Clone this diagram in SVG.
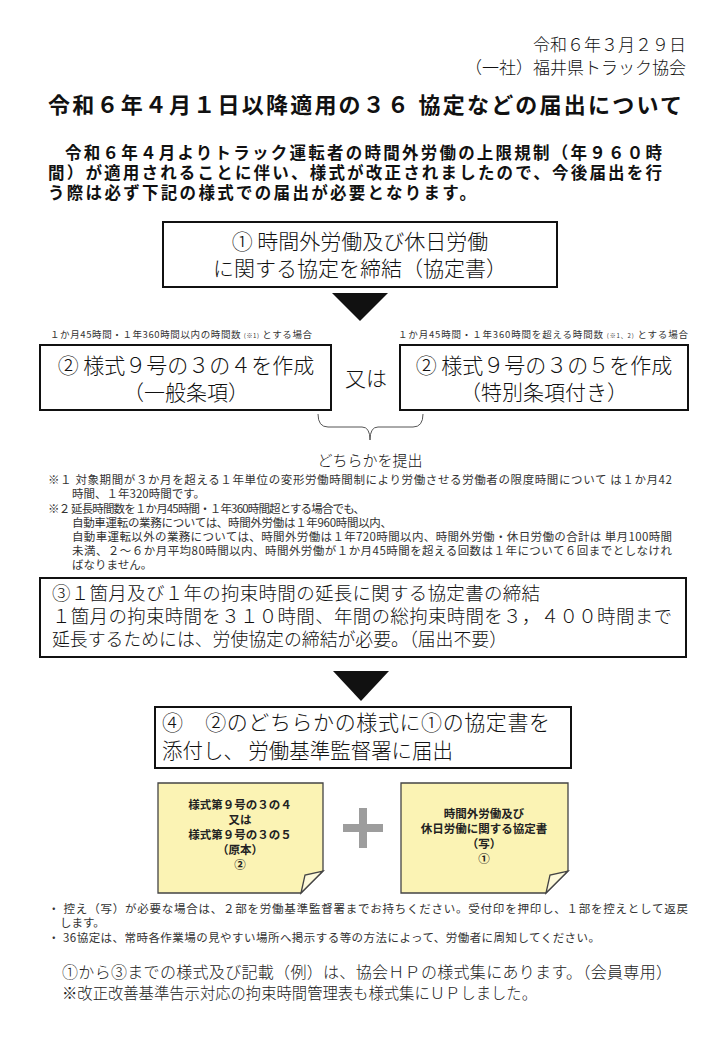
<svg xmlns="http://www.w3.org/2000/svg" width="720" height="1040" viewBox="0 0 720 1040">
<style>
text{font-family:"Noto Sans CJK JP","Noto Sans CJK SC",sans-serif;fill:#111}
.hdr{font-size:17px;font-weight:300}
.ttl{font-size:22px;font-weight:bold}
.par{font-size:16.5px;font-weight:bold}
.box{fill:#fff;stroke:#111;stroke-width:2}
.bt{font-size:21px;font-weight:300}
.lbl{font-size:9.5px;fill:#333}
.note{font-size:11.5px;fill:#333}
.sub{font-size:6px;fill:#333}
.yel{fill:#FBF3B4;stroke:#444;stroke-width:1.3}
.fold{fill:#FDF9DA;stroke:#444;stroke-width:1.3}
.yt{font-size:11.5px;font-weight:bold;fill:#222}
.b3{font-size:18.5px;font-weight:300}
.ft{font-size:16px;fill:#222;font-weight:300}
</style>
<rect width="720" height="1040" fill="#fff"/>

<g id="header">
<text class="hdr" x="686" y="51" text-anchor="end">令和６年３月２９日</text>
<text class="hdr" x="686" y="74" text-anchor="end">（一社）福井県トラック協会</text>
</g>

<g id="title">
<text class="ttl" x="48" y="113" textLength="634" lengthAdjust="spacing">令和６年４月１日以降適用の３６ 協定などの届出について</text>
</g>

<g id="intro">
<text class="par" x="65" y="159" textLength="597" lengthAdjust="spacing">令和６年４月よりトラック運転者の時間外労働の上限規制（年９６０時</text>
<text class="par" x="48" y="179" textLength="614" lengthAdjust="spacing">間）が適用されることに伴い、様式が改正されましたので、今後届出を行</text>
<text class="par" x="48" y="199" textLength="428" lengthAdjust="spacing">う際は必ず下記の様式での届出が必要となります。</text>
</g>

<g id="step1">
<rect class="box" x="163" y="222" width="394" height="65"/>
<text class="bt" x="360" y="249" text-anchor="middle" font-size="22">① 時間外労働及び休日労働</text>
<text class="bt" x="360" y="276" text-anchor="middle">に関する協定を締結（協定書）</text>
</g>

<g id="connectors">
<polygon points="332,293 388,293 360,321" fill="#111"/>
<path d="M318,414 Q318,427 328,427 H362 Q370,427 370,440 Q370,427 378,427 H413 Q423,427 423,414" fill="none" stroke="#555" stroke-width="1"/>
<polygon points="333,671 389,671 361,701" fill="#111"/>
<path d="M363,808 V848 M343,828 H383" stroke="#9d9d9d" stroke-width="8" fill="none"/>
</g>

<g id="labels">
<text class="lbl" x="50" y="338" textLength="262" lengthAdjust="spacing">１か月45時間・１年360時間以内の時間数 <tspan class="sub">(※1)</tspan> とする場合</text>
<text class="lbl" x="398" y="338" textLength="290" lengthAdjust="spacing">１か月45時間・１年360時間を超える時間数 <tspan class="sub">(※1、2)</tspan> とする場合</text>
</g>

<g id="step2a">
<rect class="box" x="40" y="345" width="291" height="65"/>
<text class="bt" x="186" y="373" text-anchor="middle" font-size="22">② 様式９号の３の４を作成</text>
<text class="bt" x="186" y="400" text-anchor="middle" font-size="22">（一般条項）</text>
</g>

<g id="or">
<text class="bt" x="366" y="386" text-anchor="middle" font-size="22">又は</text>
</g>

<g id="step2b">
<rect class="box" x="400" y="345" width="288" height="65"/>
<text class="bt" x="544" y="373" text-anchor="middle" font-size="22">② 様式９号の３の５を作成</text>
<text class="bt" x="544" y="400" text-anchor="middle" font-size="22">（特別条項付き）</text>
</g>

<g id="submit">
<text x="370" y="466" text-anchor="middle" font-size="15" font-weight="300">どちらかを提出</text>
</g>

<g id="footnotes">
<text class="note" x="48" y="484" textLength="624" lengthAdjust="spacing">※１ 対象期間が３か月を超える１年単位の変形労働時間制により労働させる労働者の限度時間について は１か月42</text>
<text class="note" x="72" y="498" textLength="133" lengthAdjust="spacing">時間、１年320時間です。</text>
<text class="note" x="48" y="513" textLength="317" lengthAdjust="spacing">※２ 延長時間数を１か月45時間・１年360時間超とする場合でも、</text>
<text class="note" x="72" y="527" textLength="320" lengthAdjust="spacing">自動車運転の業務については、時間外労働は１年960時間以内、</text>
<text class="note" x="72" y="541" textLength="600" lengthAdjust="spacing">自動車運転以外の業務については、時間外労働は１年720時間以内、時間外労働・休日労働の合計は 単月100時間</text>
<text class="note" x="72" y="555" textLength="600" lengthAdjust="spacing">未満、２～６か月平均80時間以内、時間外労働が１か月45時間を超える回数は１年について６回までとしなけれ</text>
<text class="note" x="72" y="569">ばなりません。</text>
</g>

<g id="step3">
<rect class="box" x="40" y="578" width="646" height="79"/>
<text class="b3" x="52" y="600" textLength="488" lengthAdjust="spacing">③１箇月及び１年の拘束時間の延長に関する協定書の締結</text>
<text class="b3" x="52" y="623" textLength="620" lengthAdjust="spacing">１箇月の拘束時間を３１０時間、年間の総拘束時間を３，４００時間まで</text>
<text class="b3" x="52" y="646" textLength="455" lengthAdjust="spacingAndGlyphs">延長するためには、労使協定の締結が必要。（届出不要）</text>
</g>

<g id="step4">
<rect class="box" x="155" y="707" width="416" height="61"/>
<text class="bt" x="162" y="730" textLength="388" lengthAdjust="spacing">④　②のどちらかの様式に①の協定書を</text>
<text class="bt" x="162" y="758" textLength="291" lengthAdjust="spacingAndGlyphs">添付し、 労働基準監督署に届出</text>
</g>

<g id="doc-form">
<path class="yel" d="M158,783 H323 V871 L301,893 H158 Z"/>
<path class="fold" d="M301,893 L305,875 L323,871 Z"/>
<text class="yt" x="240" y="809" text-anchor="middle">様式第９号の３の４</text>
<text class="yt" x="240" y="824" text-anchor="middle">又は</text>
<text class="yt" x="240" y="839" text-anchor="middle">様式第９号の３の５</text>
<text class="yt" x="240" y="854" text-anchor="middle">（原本）</text>
<text class="yt" x="240" y="869" text-anchor="middle">②</text>
</g>

<g id="doc-agreement">
<path class="yel" d="M401,783 H568 V871 L546,893 H401 Z"/>
<path class="fold" d="M546,893 L550,875 L568,871 Z"/>
<text class="yt" x="484" y="818" text-anchor="middle">時間外労働及び</text>
<text class="yt" x="484" y="833" text-anchor="middle">休日労働に関する協定書</text>
<text class="yt" x="484" y="848" text-anchor="middle">（写）</text>
<text class="yt" x="484" y="863" text-anchor="middle">①</text>
</g>

<g id="remarks">
<text class="note" x="48" y="913" textLength="640" lengthAdjust="spacing">・ 控え（写）が必要な場合は、２部を労働基準監督署までお持ちください。受付印を押印し、１部を控えとして返戻</text>
<text class="note" x="60" y="927">します。</text>
<text class="note" x="48" y="942" textLength="552" lengthAdjust="spacing">・ 36協定は、常時各作業場の見やすい場所へ掲示する等の方法によって、労働者に周知してください。</text>
</g>

<g id="footer">
<text class="ft" x="62" y="978" textLength="610" lengthAdjust="spacing">①から③までの様式及び記載（例）は、協会ＨＰの様式集にあります。（会員専用）</text>
<text class="ft" x="62" y="999" textLength="475" lengthAdjust="spacingAndGlyphs">※改正改善基準告示対応の拘束時間管理表も様式集にＵＰしました。</text>
</g>
</svg>
